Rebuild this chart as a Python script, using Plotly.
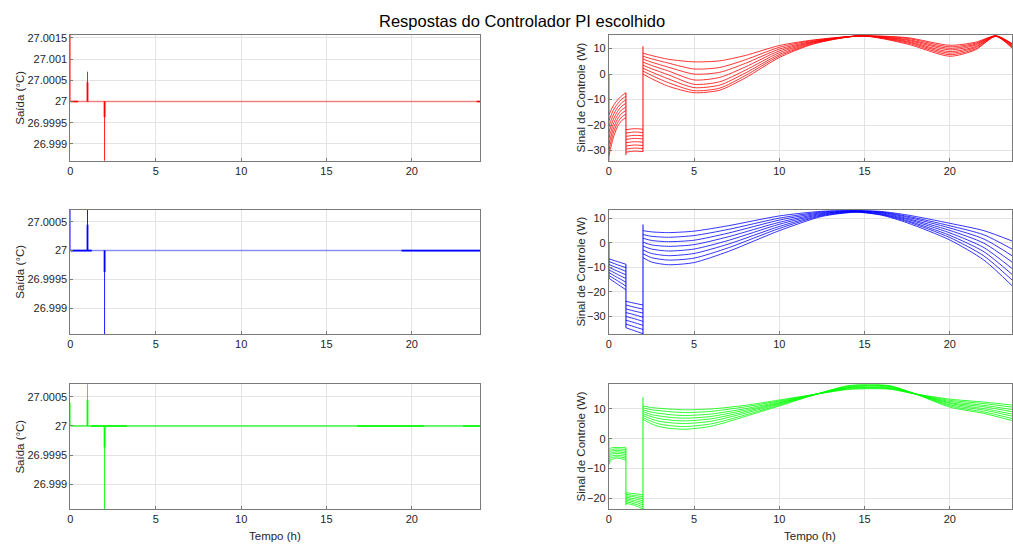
import plotly.graph_objects as go

FIG_W, FIG_H = 1013, 544

TITLE = "Respostas do Controlador PI escolhido"
X_LABEL = "Tempo (h)"
Y_LABEL_OUT = "Saída (°C)"
Y_LABEL_U = "Sinal de Controle (W)"

X_TICKS = [0, 5, 10, 15, 20]
OUT_TICKS = [26.999, 26.9995, 27.0, 27.0005, 27.001, 27.0015]
OUT_TICK_TEXT = ["26.999", "26.9995", "27", "27.0005", "27.001", "27.0015"]
U_TICKS_TOP = [-30, -20, -10, 0, 10]
U_TICKS_MID = [-30, -20, -10, 0, 10]
U_TICKS_BOT = [-20, -10, 0, 10]

# ---------------- Output (Saída) data ----------------
SETPOINT = 27.0
T_OUT_END = 24.0
OUT_SPIKE_T = [0.0, 1.0, 2.0]

RED_Y_PEAK = [27.0016, 27.0007, 26.9985]
RED_Y_INNER = [27.0, 27.00045, 26.99963]
RED_BOLD = [(0.0, 0.45), (23.8, 24.0)]

BLUE_Y_PEAK = [27.00072, 27.00072, 26.9985]
BLUE_Y_INNER = [27.0, 27.00045, 26.99963]
BLUE_BOLD = [(0.0, 1.25), (19.4, 24.0)]

GREEN_Y_PEAK = [27.0004, 27.00072, 26.9985]
GREEN_Y_INNER = [27.0, 27.00045, 26.99963]
GREEN_BOLD = [(1.2, 3.3), (16.8, 20.7), (23.0, 24.0)]

# ---------------- Control signal data (8 runs each) ----------------
# Red
RED_T1 = [0.0, 0.25, 0.5, 0.75, 1.0]
RED_U1 = [
    [-16.0, -12.5, -10.2, -8.5, -7.3],
    [-18.3, -14.3, -11.7, -9.8, -8.7],
    [-20.6, -16.1, -13.2, -11.2, -10.1],
    [-22.9, -17.9, -14.7, -12.6, -11.5],
    [-25.2, -19.7, -16.2, -14.0, -12.9],
    [-27.5, -21.5, -17.7, -15.4, -14.3],
    [-29.8, -23.3, -19.2, -16.8, -15.7],
    [-32.1, -25.1, -20.7, -18.2, -17.1],
]
RED_T2 = [1.0, 1.5, 2.0]
RED_U2 = [
    [-21.8, -21.4, -21.6],
    [-23.1, -22.7, -22.9],
    [-24.4, -24.0, -24.2],
    [-25.6, -25.2, -25.4],
    [-26.9, -26.5, -26.7],
    [-28.2, -27.8, -28.0],
    [-29.4, -29.0, -29.2],
    [-30.6, -30.2, -30.4],
]
RED_T3 = [2.0, 2.5, 3.5, 5.0, 6.5, 8.0, 10.0, 12.0, 14.8, 17.5, 20.0, 21.5, 22.7, 23.65]
RED_U3 = [
    [8.2, 7.3, 5.8, 4.8, 5.2, 7.3, 11.2, 13.4, 15.0, 14.3, 11.3, 12.5, 15.0, 12.0],
    [7.0, 6.0, 4.3, 2.0, 2.6, 5.6, 10.5, 13.2, 15.0, 14.0, 10.7, 12.1, 15.0, 11.9],
    [5.9, 4.7, 2.7, 0.0, 0.7, 4.2, 9.8, 12.9, 15.0, 13.6, 10.1, 11.7, 15.0, 11.7],
    [4.7, 3.4, 1.2, -2.3, -1.3, 2.8, 9.1, 12.7, 15.0, 13.3, 9.5, 11.3, 14.9, 11.4],
    [3.5, 2.1, -0.3, -4.0, -3.0, 1.5, 8.4, 12.5, 15.0, 12.9, 8.8, 10.8, 14.9, 11.1],
    [2.3, 0.8, -1.9, -5.3, -4.3, 0.4, 7.7, 12.3, 15.0, 12.6, 8.2, 10.4, 14.9, 10.8],
    [1.2, -0.5, -3.4, -6.5, -5.5, -0.6, 7.1, 12.0, 15.0, 12.2, 7.6, 9.9, 14.8, 10.5],
    [0.0, -1.8, -4.8, -7.3, -6.3, -1.5, 6.5, 11.8, 15.0, 11.8, 7.0, 9.5, 14.8, 10.2],
]
RED_JUMP_T = [0.0, 1.0, 2.0]
RED_JUMP_LO = [-34.0, -31.7, -30.4]
RED_JUMP_HI = [0.0, -7.3, 10.9]

# Blue
BLUE_T1 = [0.0, 0.5, 1.0]
BLUE_U1 = [
    [-6.5, -7.6, -8.7],
    [-7.6, -8.9, -10.1],
    [-8.8, -10.2, -11.6],
    [-9.9, -11.5, -13.0],
    [-11.0, -12.8, -14.5],
    [-12.1, -14.1, -16.0],
    [-13.3, -15.4, -17.6],
    [-14.4, -16.8, -19.1],
]
BLUE_T2 = [1.0, 1.5, 2.0]
BLUE_U2 = [
    [-23.8, -24.6, -25.3],
    [-25.3, -26.2, -27.0],
    [-26.9, -27.8, -28.6],
    [-28.4, -29.3, -30.3],
    [-30.0, -30.9, -32.0],
    [-31.5, -32.5, -33.6],
    [-33.1, -34.2, -35.3],
    [-34.6, -35.8, -37.0],
]
BLUE_T3 = [2.0, 2.5, 3.5, 5.0, 7.0, 10.0, 12.5, 14.5, 16.0, 17.5, 20.0, 22.0, 23.65]
BLUE_U3 = [
    [5.0, 4.5, 4.2, 4.8, 7.0, 11.0, 12.9, 13.2, 12.8, 11.4, 8.0, 5.0, 0.8],
    [3.4, 2.7, 2.3, 3.0, 5.5, 10.1, 12.6, 13.1, 12.6, 10.9, 7.0, 3.3, -2.5],
    [1.9, 1.0, 0.5, 1.1, 4.0, 9.3, 12.3, 13.0, 12.4, 10.5, 6.1, 1.6, -5.2],
    [0.3, -0.8, -1.4, -0.7, 2.5, 8.4, 12.0, 12.9, 12.2, 10.0, 5.1, -0.1, -7.8],
    [-1.3, -2.5, -3.3, -2.5, 1.0, 7.6, 11.7, 12.8, 11.9, 9.6, 4.1, -1.9, -10.4],
    [-2.9, -4.3, -5.2, -4.3, -0.5, 6.7, 11.4, 12.7, 11.7, 9.1, 3.1, -3.6, -12.8],
    [-4.4, -6.0, -7.0, -6.2, -2.0, 5.9, 11.1, 12.6, 11.5, 8.7, 2.2, -5.3, -15.1],
    [-6.0, -7.8, -8.9, -8.0, -3.5, 5.0, 10.8, 12.5, 11.3, 8.2, 1.2, -7.0, -17.4],
]
BLUE_JUMP_T = [0.0, 1.0, 2.0]
BLUE_JUMP_LO = [-14.4, -34.6, -37.2]
BLUE_JUMP_HI = [0.0, -8.7, 7.5]

# Green
GREEN_T1 = [0.0, 0.15, 0.5, 1.0]
GREEN_U1 = [
    [-3.5, -3.0, -2.9, -3.0],
    [-4.2, -3.6, -3.4, -3.6],
    [-4.9, -4.1, -3.9, -4.2],
    [-5.6, -4.7, -4.4, -4.8],
    [-6.2, -5.2, -4.9, -5.3],
    [-6.9, -5.8, -5.5, -5.9],
    [-7.7, -6.4, -6.0, -6.5],
    [-8.6, -7.0, -6.5, -7.1],
]
GREEN_T2 = [1.0, 1.5, 2.0]
GREEN_U2 = [
    [-18.1, -18.4, -18.8],
    [-18.6, -19.0, -19.4],
    [-19.1, -19.5, -20.1],
    [-19.6, -20.1, -20.8],
    [-20.1, -20.7, -21.4],
    [-20.6, -21.2, -22.1],
    [-21.1, -21.8, -22.8],
    [-21.6, -22.3, -23.5],
]
GREEN_T3 = [2.0, 2.5, 3.0, 3.75, 4.5, 6.0, 8.0, 10.0, 12.2, 14.0, 15.3, 16.5, 18.0, 20.0, 22.0, 23.65]
GREEN_U3 = [
    [11.0, 10.5, 10.2, 9.9, 9.7, 10.0, 11.2, 13.0, 15.0, 16.5, 16.8, 16.6, 15.0, 13.3, 12.3, 11.3],
    [10.4, 9.7, 9.4, 9.0, 8.8, 9.2, 10.7, 12.7, 15.0, 16.7, 17.0, 16.8, 15.0, 12.9, 11.8, 10.6],
    [9.7, 8.9, 8.5, 8.0, 7.8, 8.3, 10.1, 12.4, 15.0, 16.9, 17.2, 16.9, 15.0, 12.5, 11.2, 9.8],
    [9.1, 8.1, 7.6, 7.1, 6.9, 7.5, 9.6, 12.1, 15.0, 17.1, 17.4, 17.1, 15.0, 12.1, 10.7, 9.1],
    [8.4, 7.4, 6.7, 6.2, 6.0, 6.7, 9.1, 11.9, 15.0, 17.2, 17.7, 17.3, 15.0, 11.8, 10.1, 8.3],
    [7.8, 6.6, 5.8, 5.3, 5.1, 5.9, 8.6, 11.6, 15.0, 17.4, 17.9, 17.5, 15.0, 11.4, 9.6, 7.6],
    [7.1, 5.8, 4.9, 4.3, 4.1, 5.0, 8.0, 11.3, 15.0, 17.6, 18.1, 17.6, 15.0, 11.0, 9.0, 6.8],
    [6.5, 5.0, 4.0, 3.4, 3.2, 4.2, 7.5, 11.0, 15.0, 17.8, 18.3, 17.8, 15.0, 10.6, 8.5, 6.1],
]
GREEN_JUMP_T = [0.0, 1.0, 2.0]
GREEN_JUMP_LO = [-8.6, -22.3, -23.6]
GREEN_JUMP_HI = [0.0, -3.0, 13.9]

# ---------------- Styling / layout ----------------
FONT = "Liberation Sans, Arial, Helvetica, sans-serif"
TXT = "#262626"
GRID = "#e3e3e3"
AXLINE = "#7a7a7a"


def px_x(p):
    return p / FIG_W


def px_y(p):
    return 1 - p / FIG_H


ROW_TOP = [32.0, 207.7, 383.3]
ROW_BOT = [158.7, 333.0, 509.0]
LEFT_X = (67.7, 479.0)
RIGHT_X = (608.3, 1013.0)

OUT_RANGES = [[26.9986, 27.00157], [26.99855, 27.000712], [26.99857, 27.000717]]
U_RANGES = [[-34.0, 15.4], [-37.2, 13.6], [-23.6, 18.3]]
U_TICKS = [U_TICKS_TOP, U_TICKS_MID, U_TICKS_BOT]

series = [
    dict(color="#ff0000", soft="rgba(255,0,0,0.45)", peak=RED_Y_PEAK, inner=RED_Y_INNER, bold=RED_BOLD,
         T1=RED_T1, U1=RED_U1, T2=RED_T2, U2=RED_U2, T3=RED_T3, U3=RED_U3,
         JT=RED_JUMP_T, JLO=RED_JUMP_LO, JHI=RED_JUMP_HI),
    dict(color="#0000ff", soft="rgba(0,0,255,0.4)", peak=BLUE_Y_PEAK, inner=BLUE_Y_INNER, bold=BLUE_BOLD,
         T1=BLUE_T1, U1=BLUE_U1, T2=BLUE_T2, U2=BLUE_U2, T3=BLUE_T3, U3=BLUE_U3,
         JT=BLUE_JUMP_T, JLO=BLUE_JUMP_LO, JHI=BLUE_JUMP_HI),
    dict(color="#00ff00", soft="rgba(0,255,0,0.75)", peak=GREEN_Y_PEAK, inner=GREEN_Y_INNER, bold=GREEN_BOLD,
         T1=GREEN_T1, U1=GREEN_U1, T2=GREEN_T2, U2=GREEN_U2, T3=GREEN_T3, U3=GREEN_U3,
         JT=GREEN_JUMP_T, JLO=GREEN_JUMP_LO, JHI=GREEN_JUMP_HI),
]

fig = go.Figure()
layout = dict(
    width=FIG_W, height=FIG_H,
    margin=dict(l=0, r=0, t=0, b=0),
    paper_bgcolor="white", plot_bgcolor="white",
    showlegend=False,
    hovermode=False,
    font=dict(family=FONT, size=11, color=TXT),
)


def axis_common():
    return dict(showgrid=True, gridcolor=GRID, gridwidth=1, showline=True, mirror=True,
                linecolor=AXLINE, linewidth=1, zeroline=False, ticks="inside", ticklen=3,
                tickcolor=AXLINE, tickfont=dict(family=FONT, size=11, color=TXT))


for r, s in enumerate(series):
    kl = 2 * r + 1
    kr = 2 * r + 2
    xl, yl = f"x{kl}", f"y{kl}"
    xr, yr = f"x{kr}", f"y{kr}"
    dom_y = [px_y(ROW_BOT[r]), px_y(ROW_TOP[r])]

    # ---- left: output ----
    fig.add_trace(go.Scatter(x=[0.0, T_OUT_END], y=[SETPOINT, SETPOINT], mode="lines",
                             line=dict(color=s["soft"], width=1.5), xaxis=xl, yaxis=yl))
    bx, by = [], []
    for a, b in s["bold"]:
        bx += [a, b, None]
        by += [SETPOINT, SETPOINT, None]
    fig.add_trace(go.Scatter(x=bx, y=by, mode="lines", line=dict(color=s["color"], width=1.6),
                             xaxis=xl, yaxis=yl))
    px_, py_ = [], []
    for t, pk in zip(OUT_SPIKE_T, s["peak"]):
        px_ += [t, t, None]
        py_ += [SETPOINT, pk, None]
    fig.add_trace(go.Scatter(x=px_, y=py_, mode="lines", line=dict(color=s["color"], width=0.9),
                             xaxis=xl, yaxis=yl))
    ix, iy = [], []
    for t, v in zip(OUT_SPIKE_T, s["inner"]):
        ix += [t, t, None]
        iy += [SETPOINT, v, None]
    fig.add_trace(go.Scatter(x=ix, y=iy, mode="lines", line=dict(color=s["color"], width=1.8),
                             xaxis=xl, yaxis=yl))

    # ---- right: control signal ----
    for c in range(8):
        xs = list(s["T1"]) + [None] + list(s["T2"]) + [None] + list(s["T3"])
        ys = list(s["U1"][c]) + [None] + list(s["U2"][c]) + [None] + list(s["U3"][c])
        fig.add_trace(go.Scatter(x=xs, y=ys, mode="lines", connectgaps=False,
                                 line=dict(color=s["color"], width=0.8, shape="spline", smoothing=0.7),
                                 xaxis=xr, yaxis=yr))
    jx, jy = [], []
    for t, lo, hi in zip(s["JT"], s["JLO"], s["JHI"]):
        jx += [t, t, None]
        jy += [lo, hi, None]
    fig.add_trace(go.Scatter(x=jx, y=jy, mode="lines", line=dict(color=s["color"], width=1.0),
                             xaxis=xr, yaxis=yr))

    # axes
    ax = axis_common()
    ax.update(domain=[px_x(LEFT_X[0]), px_x(LEFT_X[1])], range=[0, T_OUT_END], tickvals=X_TICKS,
              anchor=yl)
    layout["xaxis" if kl == 1 else f"xaxis{kl}"] = ax
    ay = axis_common()
    ay.update(domain=dom_y, range=OUT_RANGES[r], tickvals=OUT_TICKS, ticktext=OUT_TICK_TEXT, anchor=xl)
    layout["yaxis" if kl == 1 else f"yaxis{kl}"] = ay

    ax2 = axis_common()
    ax2.update(domain=[px_x(RIGHT_X[0]), min(1.0, px_x(RIGHT_X[1]))], range=[0, 23.65], tickvals=X_TICKS,
               anchor=yr)
    layout[f"xaxis{kr}"] = ax2
    ay2 = axis_common()
    ay2.update(domain=dom_y, range=U_RANGES[r], tickvals=U_TICKS[r], anchor=xr)
    layout[f"yaxis{kr}"] = ay2

annots = [dict(text=TITLE, x=px_x(521), y=px_y(18), xref="paper", yref="paper", showarrow=False,
               font=dict(family=FONT, size=16.5, color="#000000"), xanchor="center", yanchor="middle")]
for r in range(3):
    yc = px_y((ROW_TOP[r] + ROW_BOT[r]) / 2)
    annots.append(dict(text=Y_LABEL_OUT, x=px_x(17), y=yc, xref="paper", yref="paper", showarrow=False,
                       textangle=-90, font=dict(family=FONT, size=11.5, color=TXT),
                       xanchor="center", yanchor="middle"))
    annots.append(dict(text=Y_LABEL_U, x=px_x(580), y=yc, xref="paper", yref="paper", showarrow=False,
                       textangle=-90, font=dict(family=FONT, size=11.5, color=TXT),
                       xanchor="center", yanchor="middle"))
for xc in [(LEFT_X[0] + LEFT_X[1]) / 2, 810.0]:
    annots.append(dict(text=X_LABEL, x=px_x(xc), y=px_y(536), xref="paper", yref="paper", showarrow=False,
                       font=dict(family=FONT, size=11.5, color=TXT), xanchor="center", yanchor="middle"))
layout["annotations"] = annots

fig.update_layout(**layout)
# remove the default page margin so the figure fills the window exactly; no mode bar
fig.write_html("out.html",
               config={"displayModeBar": False, "staticPlot": True},
               post_script="document.body.style.margin='0px';document.body.style.overflow='hidden';")
